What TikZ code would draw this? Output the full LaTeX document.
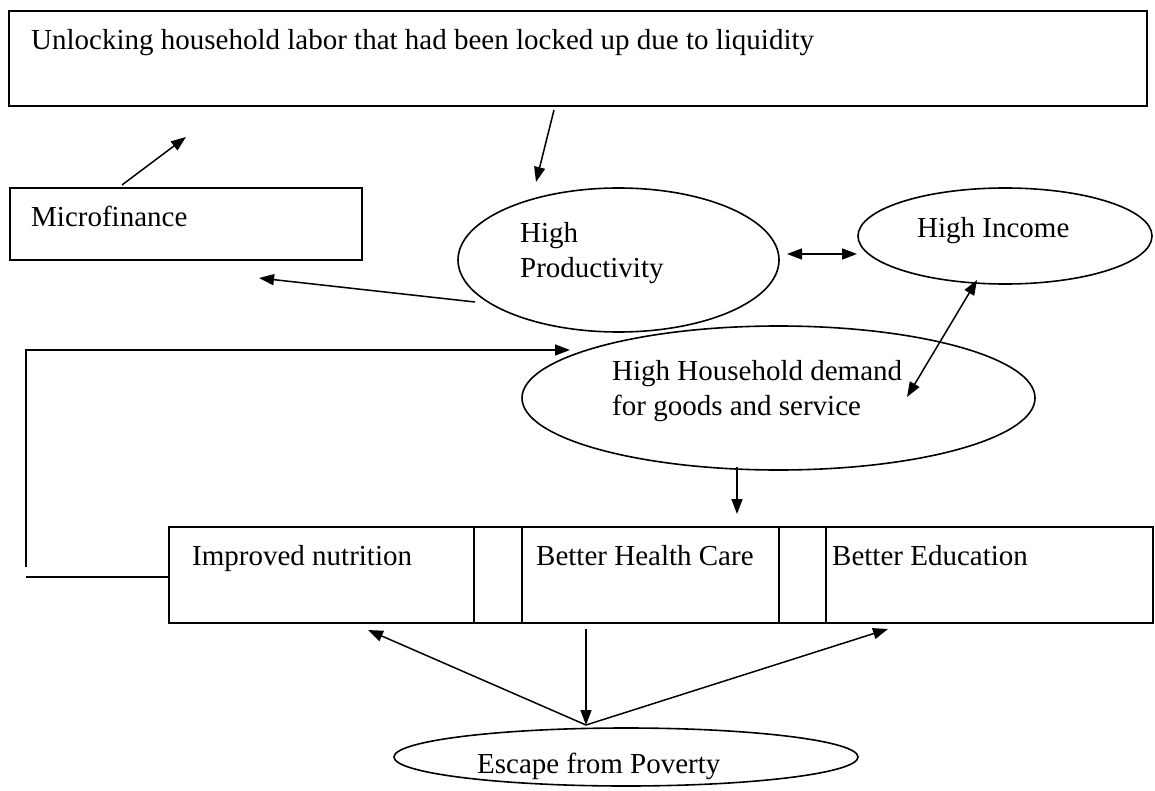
\documentclass[tikz,border=0pt]{standalone}
\usepackage{fontspec}
\setmainfont{Liberation Serif}
\usetikzlibrary{arrows.meta,shapes.geometric}
\begin{document}
\begin{tikzpicture}[x=1pt,y=-1pt,
  shapeline/.style={draw=black, line width=1.6pt},
  boxshape/.style={shapeline, rectangle, inner sep=0pt},
  ell/.style={shapeline, ellipse, inner sep=0pt},
  lbl/.style={anchor=base west, inner sep=0pt, font=\fontsize{29}{35}\selectfont},
  arr/.style={line width=1.5pt, -{Triangle[length=15pt,width=11pt]}},
  darr/.style={line width=1.5pt, {Triangle[length=15pt,width=11pt]}-{Triangle[length=15pt,width=11pt]}},
  plain/.style={line width=1.5pt},
]
\useasboundingbox (0,0) rectangle (1155,791);

% boxes
\node[boxshape, minimum width=1138pt, minimum height=95pt] (top) at (578,58.5) {};
\node[boxshape, minimum width=352pt, minimum height=72pt] (micro) at (186,224) {};
\node[boxshape, minimum width=984pt, minimum height=96pt] (outcome) at (661,575) {};
\draw[line width=1.2pt] (474,527) -- (474,623) (522,527) -- (522,623)
                        (779,527) -- (779,623) (826,527) -- (826,623);

% ellipses
\node[ell, minimum width=321pt, minimum height=144pt] (prod) at (618.5,260) {};
\node[ell, minimum width=294pt, minimum height=96pt] (income) at (1005,236) {};
\node[ell, minimum width=513pt, minimum height=144pt] (demand) at (778.5,398) {};
\node[ell, minimum width=464pt, minimum height=58pt] (escape) at (626,757) {};

% texts
\node[lbl] (ttop) at (31,50) {Unlocking household labor that had been locked up due to liquidity};
\node[lbl] (tmicro) at (31,227) {Microfinance};
\node[lbl] (tprod1) at (520,243) {High};
\node[lbl] (tprod2) at (520,278) {Productivity};
\node[lbl] (tinc) at (917,238) {High Income};
\node[lbl] (tdem1) at (612,380) {High Household demand};
\node[lbl] (tdem2) at (612,415) {for goods and service};
\node[lbl] (tnut) at (192,565) {Improved nutrition};
\node[lbl] (thealth) at (536,565) {Better Health Care};
\node[lbl] (tedu) at (832,565) {Better Education};
\node[lbl] (tesc) at (477,773) {Escape from Poverty};

% connector end points
\coordinate (a1s) at (554,110); \coordinate (a1e) at (536,182);
\coordinate (a2s) at (122,185); \coordinate (a2e) at (186,137);
\coordinate (a3s) at (475,302); \coordinate (a3e) at (259,278);
\coordinate (a4s) at (787,254); \coordinate (a4e) at (857,254);
\coordinate (a5s) at (907,397); \coordinate (a5e) at (977,280);
\coordinate (fb1) at (169,577); \coordinate (fb2) at (26,577);
\coordinate (fb3) at (26,567); \coordinate (fb4) at (26,350); \coordinate (fb5) at (570,350);
\coordinate (a7s) at (737,467); \coordinate (a7e) at (737,514);
\coordinate (hub) at (586,725);
\coordinate (nutE) at (368,630); \coordinate (eduE) at (888,629); \coordinate (healthS) at (586,629);

% connectors
\draw[arr] (a1s) -- (a1e);
\draw[arr] (a2s) -- (a2e);
\draw[arr] (a3s) -- (a3e);
\draw[darr] (a4s) -- (a4e);
\draw[darr] (a5s) -- (a5e);
\draw[plain] (fb1) -- (fb2);
\draw[arr] (fb3) -- (fb4) -- (fb5);
\draw[arr] (a7s) -- (a7e);
\draw[arr] (hub) -- (nutE);
\draw[arr] (hub) -- (eduE);
\draw[arr] (healthS) -- (hub);
\end{tikzpicture}
\end{document}
